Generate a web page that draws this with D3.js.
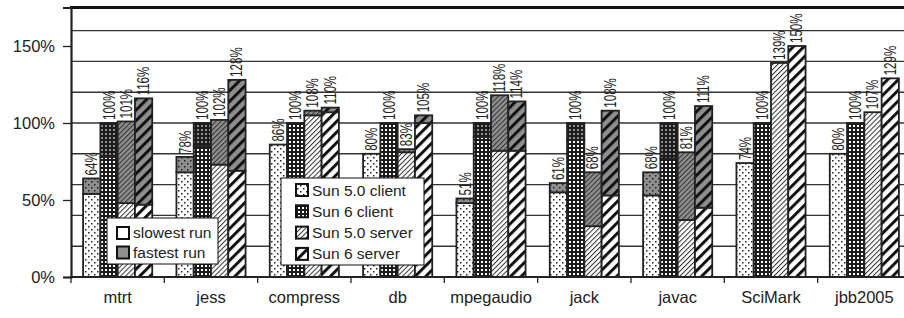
<!DOCTYPE html>
<html>
<head>
<meta charset="utf-8">
<script src="https://cdn.jsdelivr.net/npm/d3@7"></script>
<style>
  body { margin: 0; background: #fff; }
  text { font-family: "Liberation Sans", Arial, sans-serif; fill: #222; }
</style>
</head>
<body>
<svg id="chart" width="904" height="318"></svg>
<script>
const benchmarks = ["mtrt", "jess", "compress", "db", "mpegaudio", "jack", "javac", "SciMark", "jbb2005"];
const vms = ["Sun 5.0 client", "Sun 6 client", "Sun 5.0 server", "Sun 6 server"];
const runs = ["slowest run", "fastest run"];

// fastest run (the labelled value), % of Sun 6 client
const fastest50client = [64, 78, 86, 80, 51, 61, 68, 74, 80];
const fastest6client = [100, 100, 100, 100, 100, 100, 100, 100, 100];
const fastest50server = [101, 102, 108, 83, 118, 68, 81, 139, 107];
const fastest6server = [116, 128, 110, 105, 114, 108, 111, 150, 129];

// slowest run
const slowest50client = [54, 68, 86, 80, 48, 55, 53, 74, 80];
const slowest6client = [78, 85, 100, 100, 91, 89, 77, 100, 100];
const slowest50server = [48, 73, 105, 81, 82, 33, 37, 139, 107];
const slowest6server = [47, 69, 107, 100, 82, 53, 45, 150, 129];

const yTicks = [0, 50, 100, 150];

const fastest = [fastest50client, fastest6client, fastest50server, fastest6server];
const slowest = [slowest50client, slowest6client, slowest50server, slowest6server];

let rows = [];
benchmarks.forEach((b, i) => {
  vms.forEach((vm, j) => {
    rows.push({ bench: b, vm: vm, k: j, slow: slowest[j][i], fast: fastest[j][i] });
  });
});

const svg = d3.select("#chart");
const gray = "#8e8e8e";
const ink = "#222";

let x0 = d3.scaleBand().domain(benchmarks).range([71, 911]).padding(0);
let x1 = d3.scaleBand().domain(vms).range([0, x0.bandwidth()]).paddingInner(0).paddingOuter(0.7);
let y = d3.scaleLinear().domain([0, 175]).range([277, 7.5]);

// patterns: one per vm, white version for slowest and gray for fastest
const defs = svg.append("defs");

function makePatterns(k, bg, id) {
  let p = defs.append("pattern").attr("id", id).attr("patternUnits", "userSpaceOnUse");
  if (k == 0) {
    p.attr("width", 6).attr("height", 6);
    p.append("rect").attr("width", 6).attr("height", 6).attr("fill", bg);
    p.append("rect").attr("x", 1).attr("y", 1).attr("width", 1.5).attr("height", 1.5).attr("fill", ink);
    p.append("rect").attr("x", 4).attr("y", 4).attr("width", 1.5).attr("height", 1.5).attr("fill", ink);
  } else if (k == 1) {
    p.attr("width", 4).attr("height", 4);
    p.append("rect").attr("width", 4).attr("height", 4).attr("fill", "#1c1c1c");
    p.append("rect").attr("x", 1).attr("y", 1).attr("width", 2).attr("height", 2)
      .attr("fill", bg == "#fff" ? "#fff" : "#909090");
  } else if (k == 2) {
    p.attr("width", 3.5).attr("height", 3.5).attr("patternTransform", "rotate(45)");
    p.append("rect").attr("width", 3.5).attr("height", 3.5).attr("fill", bg);
    p.append("rect").attr("x", 0).attr("width", 1).attr("height", 3.5).attr("fill", "#333");
  } else {
    p.attr("width", 7.5).attr("height", 7.5).attr("patternTransform", "rotate(45)");
    p.append("rect").attr("width", 7.5).attr("height", 7.5).attr("fill", bg);
    p.append("rect").attr("x", 0).attr("width", 3).attr("height", 7.5).attr("fill", "#111");
  }
}
vms.forEach((vm, k) => {
  makePatterns(k, "#fff", "slow" + k);
  makePatterns(k, gray, "fast" + k);
});

// gridlines every 25%
svg.append("g")
  .selectAll("line")
  .data(y.ticks(7).filter((d) => d > 0 && d < 175))
  .enter()
  .append("line")
  .attr("x1", 71)
  .attr("x2", 904)
  .attr("y1", (d) => y(d))
  .attr("y2", (d) => y(d))
  .attr("stroke", "#333")
  .attr("stroke-width", 1.4);

// top border
svg.append("line")
  .attr("x1", 70).attr("x2", 904)
  .attr("y1", y(175)).attr("y2", y(175))
  .attr("stroke", "#111").attr("stroke-width", 3);

// bars
let bars = svg.append("g");
bars.selectAll("rect.slow")
  .data(rows)
  .enter()
  .append("rect")
  .attr("class", "slow")
  .attr("x", (d) => x0(d.bench) + x1(d.vm))
  .attr("y", (d) => y(d.slow))
  .attr("width", x1.bandwidth())
  .attr("height", (d) => y(0) - y(d.slow))
  .attr("fill", (d) => "url(#slow" + d.k + ")")
  .attr("stroke", ink)
  .attr("stroke-width", 1.8);

bars.selectAll("rect.fast")
  .data(rows.filter((d) => d.fast > d.slow))
  .enter()
  .append("rect")
  .attr("class", "fast")
  .attr("x", (d) => x0(d.bench) + x1(d.vm))
  .attr("y", (d) => y(d.fast))
  .attr("width", x1.bandwidth())
  .attr("height", (d) => y(d.slow) - y(d.fast))
  .attr("fill", (d) => "url(#fast" + d.k + ")")
  .attr("stroke", ink)
  .attr("stroke-width", 1.8);

// value labels (rotated, condensed)
svg.append("g")
  .selectAll("text")
  .data(rows)
  .enter()
  .append("text")
  .attr("transform", (d) =>
    "translate(" + (x0(d.bench) + x1(d.vm) + x1.bandwidth() / 2 + 5.5) + "," + (y(d.fast) - 3) + ") rotate(-90) scale(0.68,1)")
  .attr("font-size", "17px")
  .text((d) => d.fast + "%");

// y axis
let yAxis = d3.axisLeft(y).tickValues(yTicks).tickSize(8).tickPadding(8).tickFormat((d) => d + "%");
let gy = svg.append("g").attr("transform", "translate(71,0)").call(yAxis);
gy.select(".domain").attr("stroke", ink).attr("stroke-width", 2.2);
gy.selectAll(".tick line").attr("stroke", ink).attr("stroke-width", 1.3);
gy.selectAll(".tick text").attr("font-size", "16.5px").attr("fill", ink).style("font-family", "Liberation Sans, Arial, sans-serif");

// x axis: labels at centre, ticks at group boundaries
let xAxis = d3.axisBottom(x0).tickSize(0).tickPadding(14);
let gx = svg.append("g").attr("transform", "translate(0,277)").call(xAxis);
gx.select(".domain").remove();
gx.selectAll(".tick text").attr("font-size", "16.5px").attr("fill", ink).style("font-family", "Liberation Sans, Arial, sans-serif");

svg.append("line")
  .attr("x1", 70).attr("x2", 904)
  .attr("y1", 277).attr("y2", 277)
  .attr("stroke", ink).attr("stroke-width", 2.2);

svg.append("g")
  .selectAll("line")
  .data(benchmarks)
  .enter()
  .append("line")
  .attr("x1", (d) => x0(d))
  .attr("x2", (d) => x0(d))
  .attr("y1", 277)
  .attr("y2", 283)
  .attr("stroke", ink)
  .attr("stroke-width", 1.3);

// legend: slowest / fastest
let leg1 = svg.append("g").attr("transform", "translate(107,218)");
leg1.append("rect").attr("width", 111).attr("height", 46).attr("fill", "#fff").attr("stroke", "#111").attr("stroke-width", 1);
leg1.selectAll("rect.sw")
  .data(runs)
  .enter()
  .append("rect")
  .attr("class", "sw")
  .attr("x", 10)
  .attr("y", (d, i) => 9 + i * 19.5)
  .attr("width", 12)
  .attr("height", 12)
  .attr("fill", (d, i) => (i == 0 ? "#fff" : gray))
  .attr("stroke", "#111")
  .attr("stroke-width", 2);
leg1.selectAll("text")
  .data(runs)
  .enter()
  .append("text")
  .attr("x", 26)
  .attr("y", (d, i) => 20 + i * 19.5)
  .attr("font-size", "15.5px")
  .text((d) => d);

// legend: vms
let leg2 = svg.append("g").attr("transform", "translate(281,178)");
leg2.append("rect").attr("width", 143).attr("height", 87).attr("fill", "#fff").attr("stroke", "#111").attr("stroke-width", 1);
leg2.selectAll("rect.sw")
  .data(vms)
  .enter()
  .append("rect")
  .attr("class", "sw")
  .attr("x", 15)
  .attr("y", (d, i) => 6 + i * 21.3)
  .attr("width", 12)
  .attr("height", 12)
  .attr("fill", (d, i) => "url(#slow" + i + ")")
  .attr("stroke", "#111")
  .attr("stroke-width", 2);
leg2.selectAll("text")
  .data(vms)
  .enter()
  .append("text")
  .attr("x", 31)
  .attr("y", (d, i) => 17.5 + i * 21.3)
  .attr("font-size", "15.5px")
  .text((d) => d);
</script>
</body>
</html>
